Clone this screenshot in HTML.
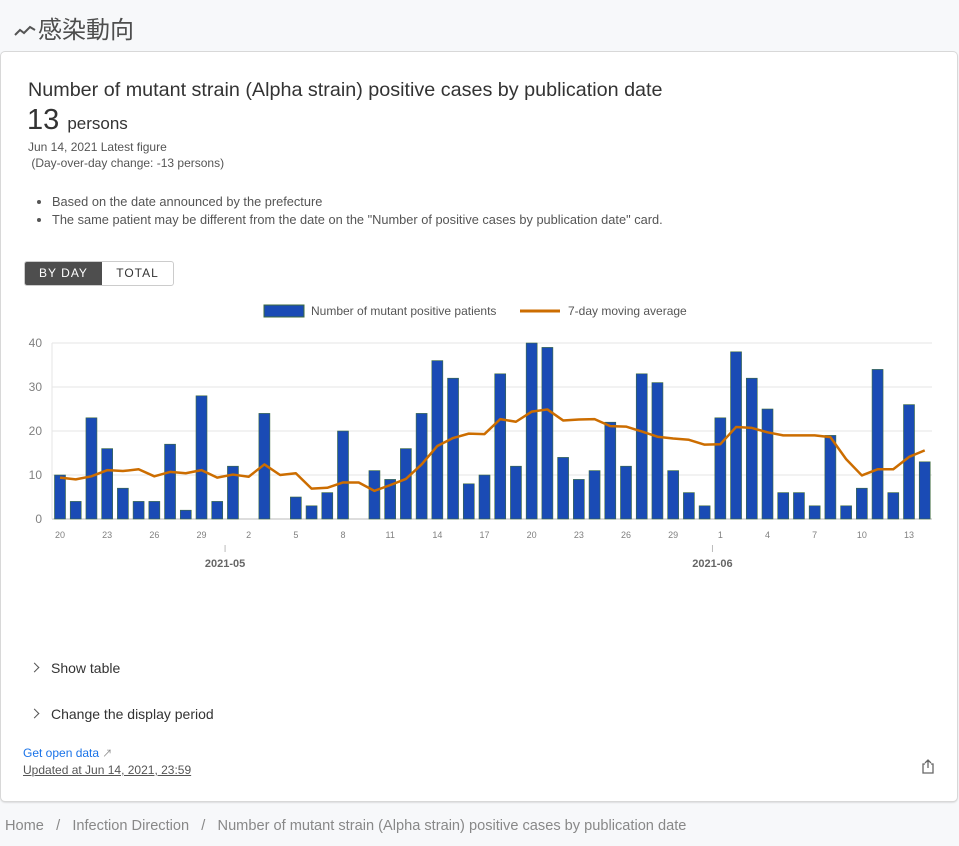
<!DOCTYPE html>
<html><head><meta charset="utf-8">
<style>
body{margin:0;width:959px;height:846px;background:#f7f8fa;font-family:"Liberation Sans","Noto Sans CJK JP",sans-serif;position:relative;overflow:hidden;color:#333}
.abs{position:absolute;white-space:nowrap}
#card{position:absolute;left:1px;top:52px;width:956px;height:749px;background:#fff;border-radius:4px;box-shadow:0 0 0 1px #d8d8d8,0 1px 2px rgba(0,0,0,.25)}
.chev{position:absolute;left:0;top:4px;width:6px;height:6px;border-right:1.8px solid #555;border-top:1.8px solid #555;transform:rotate(45deg)}
</style></head><body>
<div class="abs" style="left:12px;top:10px;font-size:24px;color:#4e4e4e">
<svg width="26" height="20" viewBox="0 0 24 20" style="vertical-align:-2px"><polyline points="2,15 7,10 11,13 17,7 22,10" fill="none" stroke="#555" stroke-width="2"/></svg>感染動向</div>
<div id="card">
<div class="abs" style="left:27px;top:27px;font-size:19.75px;color:#333">Number of mutant strain (Alpha strain) positive cases by publication date</div>
<div class="abs" style="left:26px;top:52px;font-size:29px;color:#333">13 <span style="font-size:17px">persons</span></div>
<div class="abs" style="left:27px;top:88px;font-size:12px;color:#555">Jun 14, 2021 Latest figure</div>
<div class="abs" style="left:27px;top:104px;font-size:12px;color:#555">&nbsp;(Day-over-day change: -13 persons)</div>
<ul class="abs" style="left:0;top:141px;margin:0;padding-left:51px;font-size:12.8px;color:#555;line-height:18px">
<li>Based on the date announced by the prefecture</li>
<li>The same patient may be different from the date on the "Number of positive cases by publication date" card.</li></ul>
<div class="abs" style="left:23px;top:209px;width:148px;height:23px;border:1px solid #ccc;border-radius:3px;overflow:hidden;font-size:12px;letter-spacing:1px;line-height:23px">
<div class="abs" style="left:0;top:0;width:77px;height:23px;background:#4e4e4e;color:#fff;text-align:center">BY DAY</div>
<div class="abs" style="left:77px;top:0;width:71px;height:23px;color:#333;text-align:center">TOTAL</div></div>
<div class="abs" style="left:30px;top:608px;font-size:14px;color:#333;padding-left:20px"><span class="chev"></span>Show table</div>
<div class="abs" style="left:30px;top:654px;font-size:14px;color:#333;padding-left:20px"><span class="chev"></span>Change the display period</div>
<div class="abs" style="left:22px;top:693px;font-size:12px;color:#1a73e8">Get open data <span style="color:#888;font-size:10px">&#8599;</span></div>
<div class="abs" style="left:22px;top:711px;font-size:12px;color:#555;text-decoration:underline">Updated at Jun 14, 2021, 23:59</div>
<svg class="abs" style="left:920px;top:707px" width="14" height="15" viewBox="0 0 14 15"><path d="M4 5H2v9h10V5h-2M7 1v8M4 4l3-3 3 3" fill="none" stroke="#666" stroke-width="1.3"/></svg>
</div>
<svg id="chart" class="abs" style="left:0;top:0" width="959" height="600"></svg>
<div class="abs" style="left:5px;top:818px;font-size:14.6px;color:#888">
<span>Home</span> &nbsp; / &nbsp; <span>Infection Direction</span> &nbsp; / &nbsp; <span>Number of mutant strain (Alpha strain) positive cases by publication date</span></div>
<script>
const dayLabels=["20","21","22","23","24","25","26","27","28","29","30","1","2","3","4","5","6","7","8","9","10","11","12","13","14","15","16","17","18","19","20","21","22","23","24","25","26","27","28","29","30","31","1","2","3","4","5","6","7","8","9","10","11","12","13","14"];
const positives=[10,4,23,16,7,4,4,17,2,28,4,12,0,24,0,5,3,6,20,0,11,9,16,24,36,32,8,10,33,12,40,39,14,9,11,22,12,33,31,11,6,3,23,38,32,25,6,6,3,19,3,7,34,6,26,13];
const movingAvg=[9.4,9.0,9.7,11.1,10.9,11.3,9.7,10.7,10.4,11.1,9.4,10.1,9.6,12.4,10.0,10.4,6.9,7.1,8.3,8.3,6.4,7.7,9.1,12.4,16.6,18.4,19.4,19.3,22.7,22.1,24.4,24.9,22.4,22.6,22.7,21.1,21.0,19.9,18.7,18.3,18.0,16.9,17.0,20.9,20.7,19.7,19.0,19.0,19.0,18.6,13.6,9.9,11.3,11.3,14.1,15.6];
const yTicks=[0,10,20,30,40];
const monthLabels=["2021-05","2021-06"];
const monthStartIdx=[11,42];
const svg=document.getElementById('chart');const NS='http://www.w3.org/2000/svg';
const X0=60,STEP=(909-60)/54,Y0=519,YS=(519-343)/40;
const x=i=>X0+i*STEP, y=v=>Y0-v*YS;
function mk(t,a,p){const e=document.createElementNS(NS,t);for(const k in a)e.setAttribute(k,a[k]);(p||svg).appendChild(e);return e;}
yTicks.forEach(t=>{const g=mk('line',{x1:52,x2:932,y1:y(t),y2:y(t),stroke:t?'#e6e6e6':'#bbb'});


const l=mk('text',{x:42,y:y(t)+4,'text-anchor':'end','font-size':12,fill:'#808080','font-family':'Liberation Sans'});l.textContent=t;

});
mk('line',{x1:52,x2:52,y1:343,y2:519,stroke:'#e6e6e6'});
positives.forEach((v,i)=>{const r=mk('rect',{x:x(i)-5.5,y:y(v),width:11,height:v*YS,fill:'#1a4bb5',stroke:'#3d6b3d','stroke-width':0.6});


if(i%3==0){const t=mk('text',{x:x(i),y:538,'text-anchor':'middle','font-size':9,fill:'#808080','font-family':'Liberation Sans'});t.textContent=dayLabels[i];

}});
const line=mk('polyline',{points:movingAvg.map((v,i)=>x(i)+','+y(v)).join(' '),fill:'none',stroke:'#cc6d00','stroke-width':2.5,'stroke-linejoin':'round'});


monthLabels.forEach((m,k)=>{const mx=(x(monthStartIdx[k])+x(monthStartIdx[k]-1))/2;mk('line',{x1:mx,x2:mx,y1:545,y2:552,stroke:'#bbb'});
const t=mk('text',{x:mx,y:567,'text-anchor':'middle','font-size':11,'font-weight':'bold',fill:'#666','font-family':'Liberation Sans'});t.textContent=m;

});
const lg=mk('rect',{x:264,y:305,width:40,height:12,fill:'#1a4bb5',stroke:'#3d6b3d'});


const t1=mk('text',{x:311,y:315,'font-size':12,fill:'#555','font-family':'Liberation Sans'});t1.textContent='Number of mutant positive patients';


const ll=mk('line',{x1:520,x2:560,y1:311,y2:311,stroke:'#cc6d00','stroke-width':3});


const t2=mk('text',{x:568,y:315,'font-size':12,fill:'#555','font-family':'Liberation Sans'});t2.textContent='7-day moving average';


</script>
</body></html>
